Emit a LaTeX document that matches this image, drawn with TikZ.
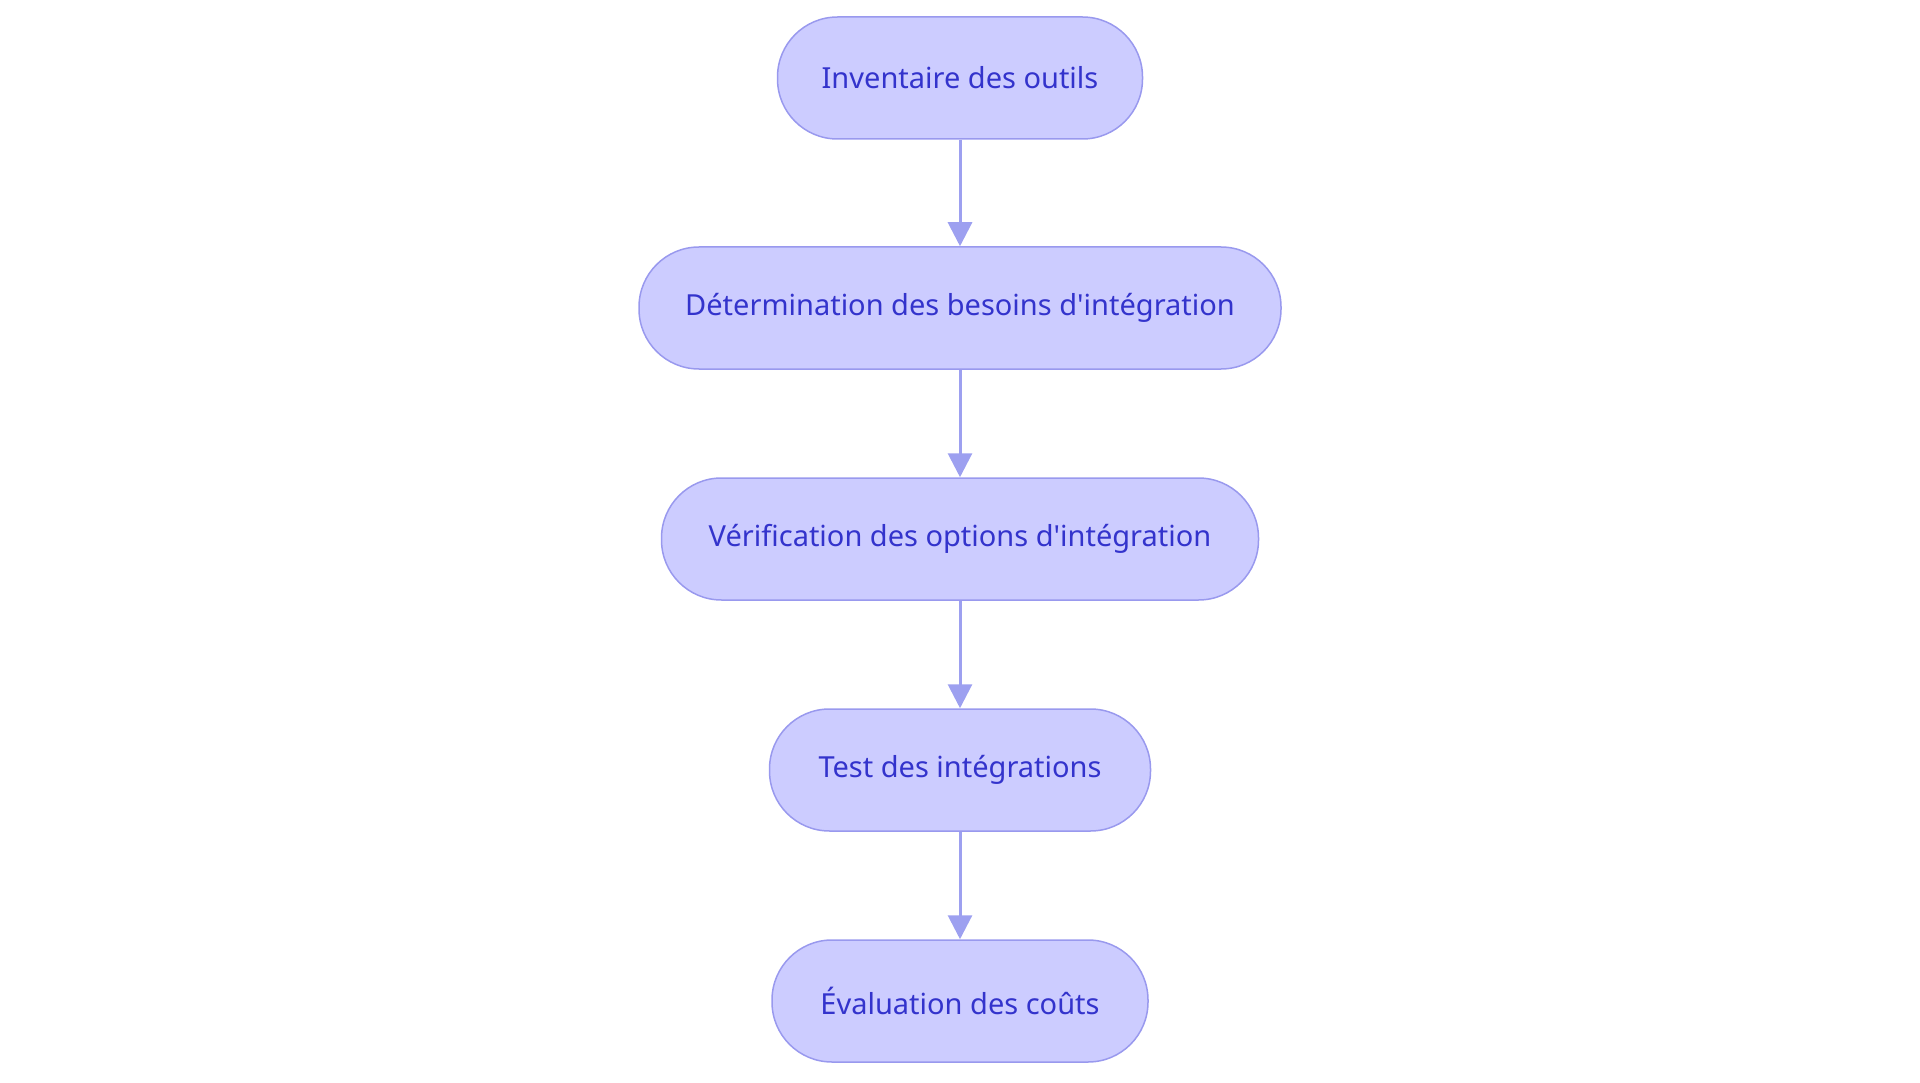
\documentclass[tikz,border=0pt]{standalone}
\usepackage{fontspec}
\setmainfont{Noto Sans}[Ligatures=ResetAll]
\usetikzlibrary{arrows.meta}
\definecolor{nfill}{HTML}{CCCCFF}
\definecolor{nline}{HTML}{9999EE}
\definecolor{ntext}{HTML}{3333CC}
\definecolor{arr}{HTML}{9DA0F0}
\begin{document}
\begin{tikzpicture}[x=1pt,y=-1pt,
  box/.style={draw=nline,line width=1.5pt,fill=nfill,text=ntext,rounded corners=60pt,minimum height=122pt,inner sep=0pt,font=\fontsize{29}{34}\selectfont},
  con/.style={draw=arr,line width=3pt,-{Triangle[length=24pt,width=24pt]}}]
\useasboundingbox (0,0) rectangle (1920,1083);
\node[box,minimum width=365pt] (a) at (960,78) {Inventaire des outils};
\node[box,minimum width=642pt] (b) at (960,308) {Détermination des besoins d\textquotesingle intégration};
\node[box,minimum width=597pt] (c) at (960,539) {Vérification des options d\textquotesingle intégration};
\node[box,minimum width=381pt] (d) at (960,770) {Test des intégrations};
\node[box,minimum width=376pt] (e) at (960,1001) {Évaluation des coûts};
\draw[con] (a) -- (b);
\draw[con] (b) -- (c);
\draw[con] (c) -- (d);
\draw[con] (d) -- (e);
\end{tikzpicture}
\end{document}
